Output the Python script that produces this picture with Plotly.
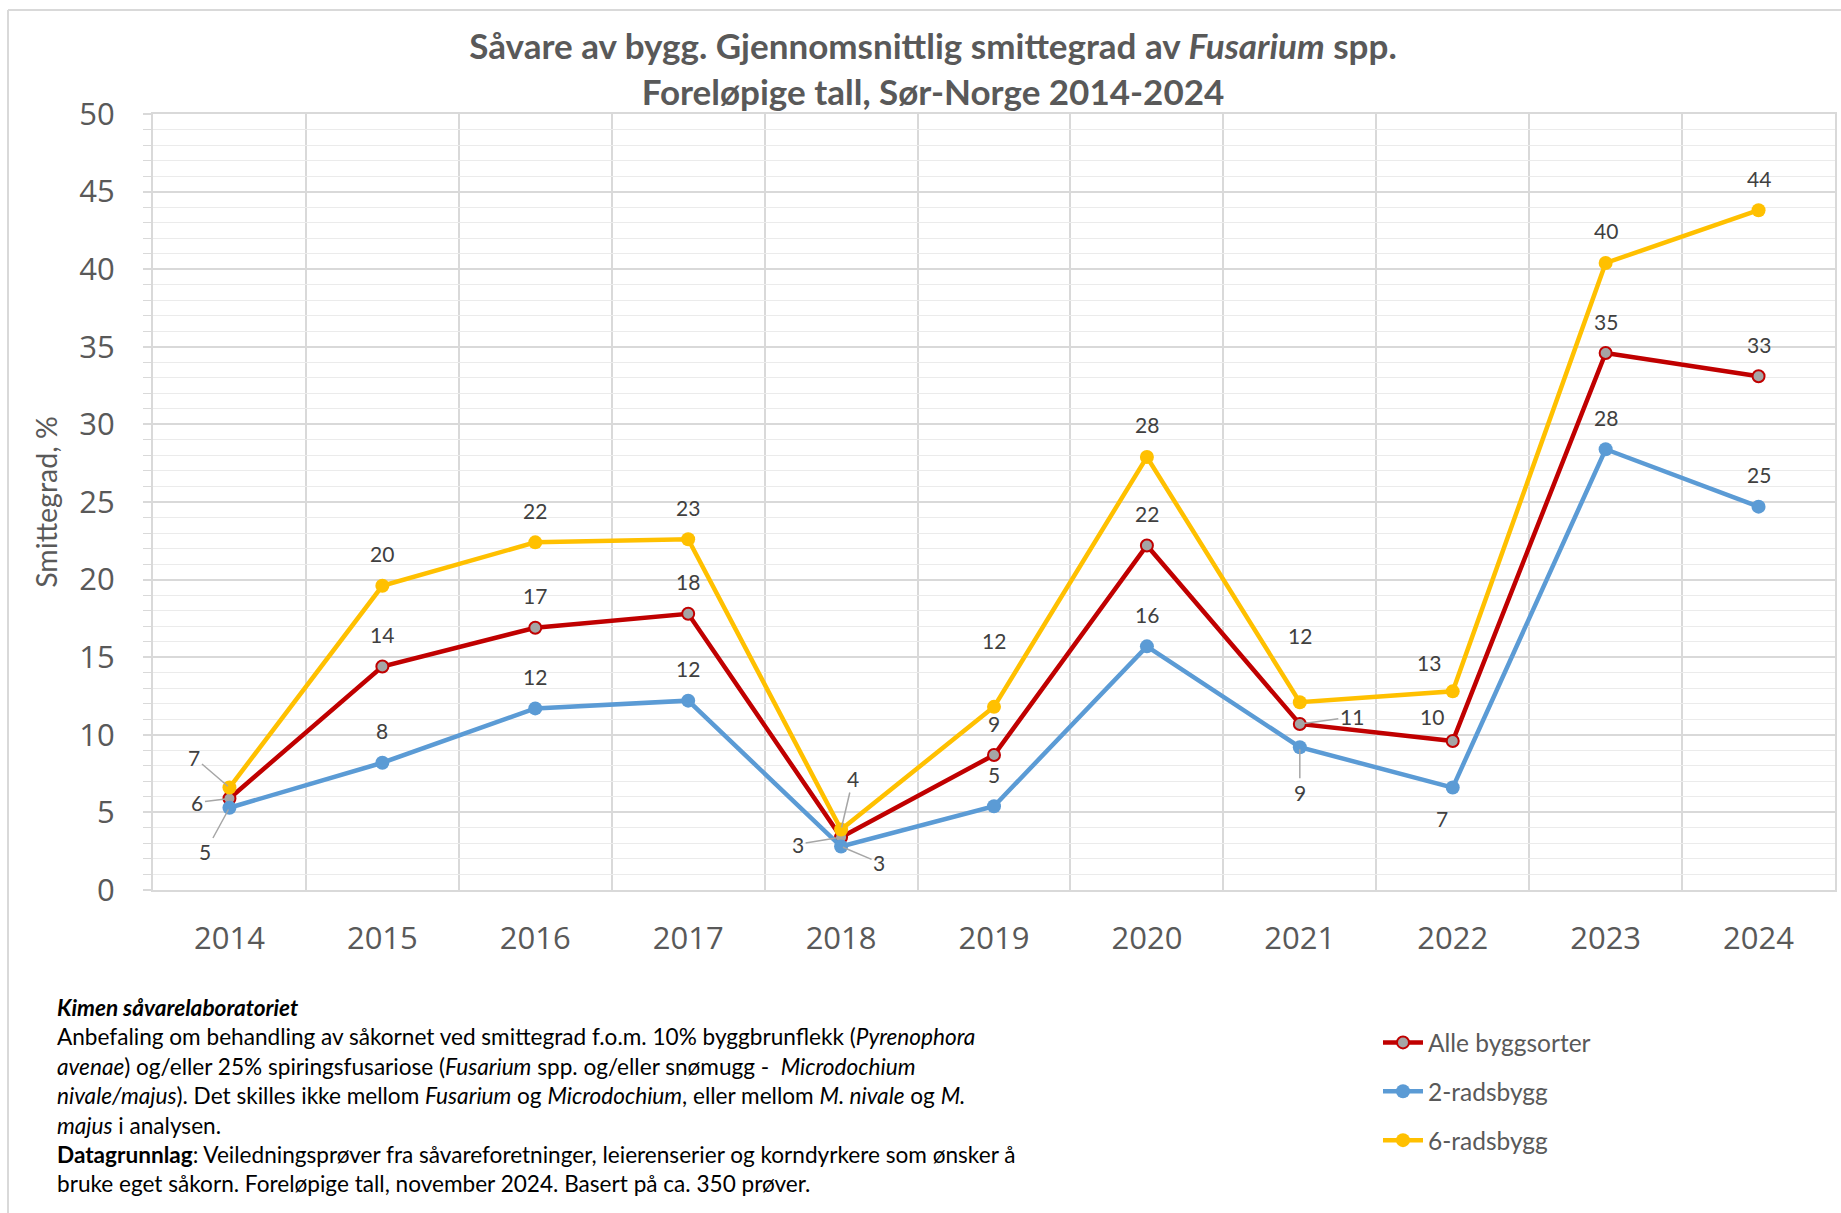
import math
import plotly.graph_objects as go

years = ["2014", "2015", "2016", "2017", "2018", "2019", "2020", "2021", "2022", "2023", "2024"]
alle_byggsorter = [5.9, 14.4, 16.9, 17.8, 3.4, 8.7, 22.2, 10.7, 9.6, 34.6, 33.1]
to_radsbygg = [5.3, 8.2, 11.7, 12.2, 2.8, 5.4, 15.7, 9.2, 6.6, 28.4, 24.7]
seks_radsbygg = [6.6, 19.6, 22.4, 22.6, 3.9, 11.8, 27.9, 12.1, 12.8, 40.4, 43.8]

W, H = 1841, 1213
L, R, T, B = 153, 6, 114, 323
PW, PH = W - L - R, H - T - B

RED, BLUE, YEL, GREY = "#c00000", "#5b9bd5", "#ffc000", "#a5a5a5"
TXT = "#595959"
LAB = "#404040"
GRID = "#d9d9d9"

xs = list(range(len(years)))

fig = go.Figure()
fig.add_trace(go.Scatter(
    x=xs, y=alle_byggsorter, name="Alle byggsorter", mode="lines+markers",
    line=dict(color=RED, width=4.5),
    marker=dict(color=GREY, size=12, line=dict(color=RED, width=2)),
    legendgroup="a"))
fig.add_trace(go.Scatter(
    x=xs, y=to_radsbygg, name="2-radsbygg", mode="lines+markers",
    line=dict(color=BLUE, width=4.5),
    marker=dict(color=BLUE, size=14),
    legendgroup="b"))
fig.add_trace(go.Scatter(
    x=xs, y=seks_radsbygg, name="6-radsbygg", mode="lines+markers",
    line=dict(color=YEL, width=4.5),
    marker=dict(color=YEL, size=14),
    legendgroup="c"))

# data label offsets (pixels): (dx, dy, leader)
default = (0, -32, False)
offsets = {
    "c": {0: (-35, -30, True), 4: (12, -51, True), 5: (0, -66, False), 7: (0, -67, False), 8: (-24, -29, False)},
    "a": {0: (-32, 4, True), 4: (-43, 7, True), 5: (0, -31, False), 7: (52, -7, True), 8: (-21, -25, False)},
    "b": {0: (-24, 44, True), 4: (38, 16, True), 7: (0, 45, True), 8: (-11, 31, False)},
}
series = {"a": alle_byggsorter, "b": to_radsbygg, "c": seks_radsbygg}

annotations = []
for key, vals in series.items():
    for i, v in enumerate(vals):
        dx, dy, leader = offsets[key].get(i, default)
        txt = str(int(math.floor(v + 0.5)))
        font = dict(family="Lato", size=21, color=LAB)
        if leader:
            annotations.append(dict(x=i, y=v, xref="x", yref="y", text=txt, font=font,
                                    showarrow=True, ax=dx, ay=dy, arrowhead=0, arrowwidth=1.5,
                                    arrowcolor="#a6a6a6", standoff=2))
        else:
            annotations.append(dict(x=i, y=v, xref="x", yref="y", text=txt, font=font,
                                    showarrow=False, xshift=dx, yshift=-dy))


def px(x):
    return (x - L) / PW


def py(y):
    return (H - B - y) / PH


footnote = (
    "<b><i>Kimen såvarelaboratoriet</i></b><br>"
    "Anbefaling om behandling av såkornet ved smittegrad f.o.m. 10% byggbrunflekk (<i>Pyrenophora</i><br>"
    "<i>avenae</i>) og/eller 25% spiringsfusariose (<i>Fusarium</i> spp. og/eller snømugg -  <i>Microdochium</i><br>"
    "<i>nivale/majus</i>). Det skilles ikke mellom <i>Fusarium</i> og <i>Microdochium</i>, eller mellom <i>M. nivale</i> og <i>M.</i><br>"
    "<i>majus</i> i analysen.<br>"
    "<b>Datagrunnlag</b>: Veiledningsprøver fra såvareforetninger, leierenserier og korndyrkere som ønsker å<br>"
    "bruke eget såkorn. Foreløpige tall, november 2024. Basert på ca. 350 prøver."
)
annotations.append(dict(x=px(55), y=py(992), xref="paper", yref="paper", xanchor="left", yanchor="top",
                        align="left", showarrow=False, text=footnote,
                        font=dict(family="Lato", size=22.6, color="#000000")))

shapes = [
    dict(type="line", xref="paper", yref="paper", x0=px(8), x1=px(W + 5), y0=py(10), y1=py(10),
         line=dict(color=GRID, width=2)),
    dict(type="line", xref="paper", yref="paper", x0=px(8), x1=px(8), y0=py(10), y1=py(H + 5),
         line=dict(color=GRID, width=2)),
]

fig.update_layout(
    width=W, height=H,
    margin=dict(l=L, r=R, t=T, b=B, autoexpand=False),
    paper_bgcolor="white", plot_bgcolor="white",
    title=dict(text="<b>Såvare av bygg. Gjennomsnittlig smittegrad av <i>Fusarium</i> spp.<br>Foreløpige tall, Sør-Norge 2014-2024</b>",
               x=933 / W, xanchor="center", y=1 - 59 / H, yanchor="middle", yref="container",
               font=dict(family="Lato", size=35, color=TXT)),
    showlegend=True,
    legend=dict(x=px(1378), y=py(1020), xanchor="left", yanchor="top", xref="paper", yref="paper",
                font=dict(family="Lato", size=24.5, color=TXT), tracegroupgap=14, itemwidth=40,
                bgcolor="rgba(0,0,0,0)"),
    xaxis=dict(range=[-0.5, len(years) - 0.5], tickmode="array", tickvals=xs, ticktext=years,
               showgrid=False, zeroline=False, ticks="", showline=True, linecolor=GRID, linewidth=2,
               mirror=True, ticklabelstandoff=20,
               tickfont=dict(family="Open Sans", size=31, color=TXT),
               minor=dict(tickmode="array", tickvals=[i - 0.5 for i in range(len(years) + 1)],
                          showgrid=True, gridcolor=GRID, gridwidth=2, ticks="")),
    yaxis=dict(range=[0, 50], dtick=5, tick0=0, showgrid=True, gridcolor=GRID, gridwidth=1.5,
               zeroline=False, showline=True, linecolor=GRID, linewidth=2, mirror=True,
               ticks="outside", ticklen=8, tickcolor=GRID, tickwidth=1.5, ticklabelstandoff=22,
               tickfont=dict(family="Open Sans", size=31, color=TXT),
               title=dict(text="Smittegrad, %", font=dict(family="Lato", size=28.5, color=TXT), standoff=13),
               minor=dict(dtick=1, showgrid=True, gridcolor="#ebebeb", gridwidth=1.2,
                          ticks="outside", ticklen=8, tickcolor=GRID, tickwidth=1.2)),
    annotations=annotations,
    shapes=shapes,
)

fig.write_html("out.html", config={"displayModeBar": False},
               post_script="document.body.style.margin='0px';")
